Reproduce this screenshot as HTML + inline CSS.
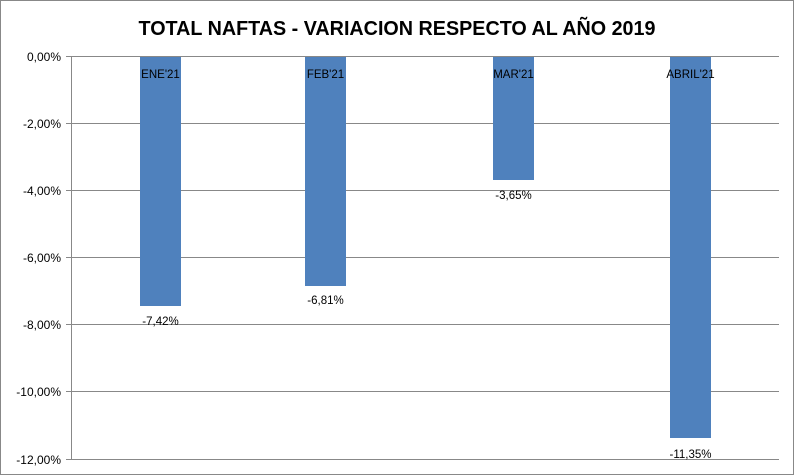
<html><body style="margin:0;background:#fff">
<svg width="795" height="476" xmlns="http://www.w3.org/2000/svg" font-family="Liberation Sans, sans-serif">
<rect x="0.5" y="0.5" width="793" height="474" fill="#fff" stroke="#888"/>
<text x="397" y="35" text-anchor="middle" font-size="20" font-weight="bold" textLength="517" lengthAdjust="spacingAndGlyphs">TOTAL NAFTAS - VARIACION RESPECTO AL AÑO 2019</text>
<g stroke="#888" stroke-width="1">
<line x1="66" y1="56.5" x2="779" y2="56.5"/>
<line x1="66" y1="123.5" x2="779" y2="123.5"/>
<line x1="66" y1="190.5" x2="779" y2="190.5"/>
<line x1="66" y1="257.5" x2="779" y2="257.5"/>
<line x1="66" y1="324.5" x2="779" y2="324.5"/>
<line x1="66" y1="391.5" x2="779" y2="391.5"/>
<line x1="66" y1="459.5" x2="779" y2="459.5"/>
<line x1="71.5" y1="56" x2="71.5" y2="460"/>
</g>
<g font-size="12" text-anchor="end">
<text x="61" y="61">0,00%</text><text x="61" y="128">-2,00%</text><text x="61" y="195">-4,00%</text>
<text x="61" y="262">-6,00%</text><text x="61" y="329">-8,00%</text><text x="61" y="396">-10,00%</text><text x="61" y="464">-12,00%</text>
</g>
<g fill="#4f81bd">
<rect x="140" y="57" width="41" height="249"/>
<rect x="305" y="57" width="41" height="229"/>
<rect x="493" y="57" width="41" height="123"/>
<rect x="670" y="57" width="41" height="381"/>
</g>
<g font-size="11.5" text-anchor="middle">
<text x="160.5" y="78">ENE'21</text><text x="325.5" y="78">FEB'21</text><text x="513.5" y="78">MAR'21</text><text x="690.5" y="78">ABRIL'21</text>
<text x="160.5" y="325">-7,42%</text><text x="325.5" y="304">-6,81%</text><text x="513.5" y="199">-3,65%</text><text x="690.5" y="458">-11,35%</text>
</g>
</svg>
</body></html>
